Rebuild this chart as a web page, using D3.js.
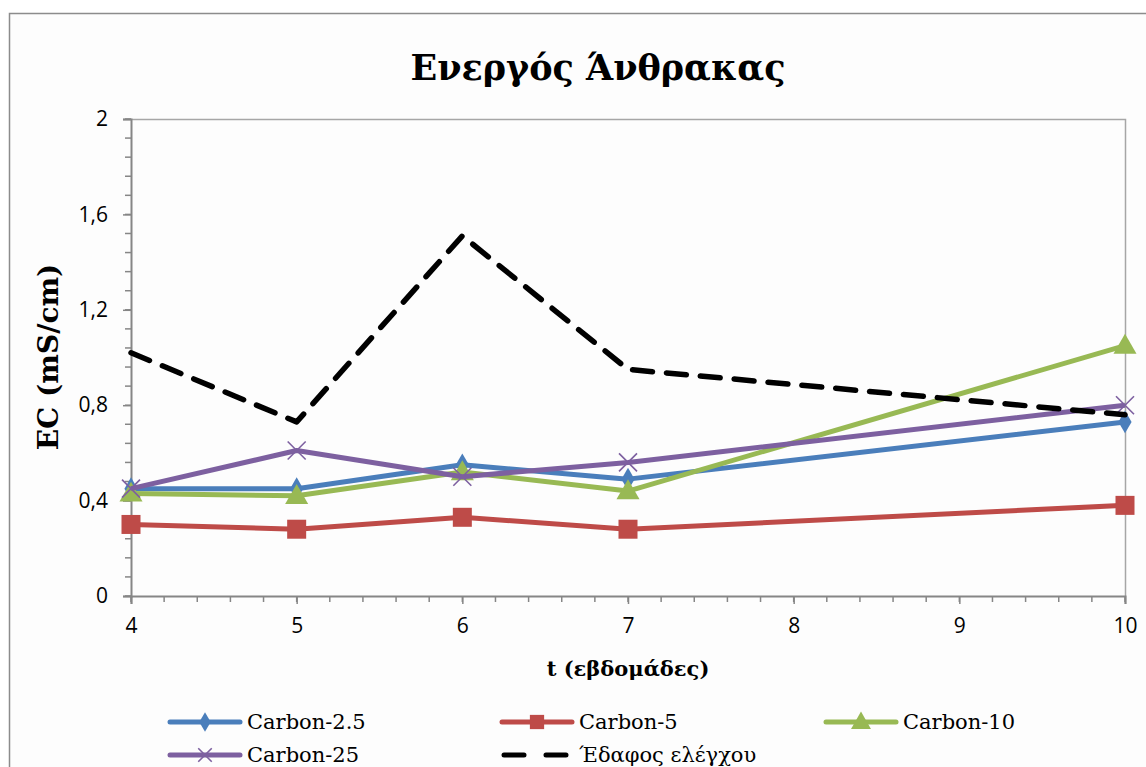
<!DOCTYPE html>
<html>
<head>
<meta charset="utf-8">
<script src="https://cdn.jsdelivr.net/npm/d3@7"></script>
<style>
  html, body { margin: 0; padding: 0; background: #ffffff; }
  svg { display: block; }
</style>
</head>
<body>
<svg id="chart" width="1146" height="767"></svg>
<script>
// Weeks of measurement and EC readings (mS/cm) per treatment
const weeks = [4, 5, 6, 7, 10];
const carbon2_5 = [0.45, 0.45, 0.55, 0.49, 0.73];
const carbon5 = [0.30, 0.28, 0.33, 0.28, 0.38];
const carbon10 = [0.43, 0.42, 0.52, 0.44, 1.05];
const carbon25 = [0.45, 0.61, 0.50, 0.56, 0.80];
const controlSoil = [1.02, 0.73, 1.51, 0.95, 0.76];

const xTicks = [4, 5, 6, 7, 8, 9, 10];
const yTicks = [0, 0.4, 0.8, 1.2, 1.6, 2];

const seriesNames = ["Carbon-2.5", "Carbon-5", "Carbon-10", "Carbon-25", "Έδαφος ελέγχου"];
const seriesValues = [carbon2_5, carbon5, carbon10, carbon25, controlSoil];
const seriesColors = ["#4a7ebb", "#be4b48", "#98b954", "#7d60a0", "#000000"];
const seriesMarkers = ["diamond", "square", "triangle", "cross", "none"];

const title = "Ενεργός Άνθρακας";
const yTitle = "EC (mS/cm)";
const xTitle = "t (εβδομάδες)";

const svg = d3.select("#chart");
const W = 1146, H = 767;
const plot = { left: 131, top: 119, right: 1125, bottom: 596 };

// Outer chart frame
svg.append("rect").attr("x", 9.5).attr("y", 13.5).attr("width", W + 20).attr("height", H + 20)
  .attr("fill", "#fdfdfd").attr("stroke", "#8c8c8c").attr("stroke-width", 1.5);

const x = d3.scaleLinear().domain([4, 10]).range([plot.left, plot.right]);
const y = d3.scaleLinear().domain([0, 2]).range([plot.bottom, plot.top]);

// Plot area border (top and right)
svg.append("path")
  .attr("d", `M${plot.left},${plot.top + 0.5}H${plot.right + 0.5}V${plot.bottom}`)
  .attr("fill", "none").attr("stroke", "#a6a6a6").attr("stroke-width", 1.5);

const axisColor = "#868686";
const tickFont = "'Open Sans', 'Noto Sans', sans-serif";

// Minor ticks
const yMinor = d3.range(0, 2.0001, 0.08);
svg.append("g").selectAll("line").data(yMinor).join("line")
  .attr("x1", plot.left - 6).attr("x2", plot.left)
  .attr("y1", d => y(d)).attr("y2", d => y(d))
  .attr("stroke", axisColor).attr("stroke-width", 1.5);
const xMinor = d3.range(4, 10.0001, 0.2);
svg.append("g").selectAll("line").data(xMinor).join("line")
  .attr("x1", d => x(d)).attr("x2", d => x(d))
  .attr("y1", plot.bottom).attr("y2", plot.bottom + 6)
  .attr("stroke", axisColor).attr("stroke-width", 1.5);

// Y axis
const yAxis = d3.axisLeft(y).tickValues(yTicks).tickSize(8).tickPadding(15)
  .tickFormat(d => d3.format("")(d).replace(".", ","));
const gy = svg.append("g").attr("transform", `translate(${plot.left},0)`).call(yAxis);
gy.select(".domain").attr("stroke", axisColor).attr("stroke-width", 2);
gy.selectAll(".tick line").attr("stroke", axisColor).attr("stroke-width", 1.5);
gy.selectAll(".tick text").attr("fill", "#000").style("font-family", tickFont).style("font-size", "21px");

// X axis
const xAxis = d3.axisBottom(x).tickValues(xTicks).tickSize(8).tickPadding(14).tickFormat(d3.format("d"));
const gx = svg.append("g").attr("transform", `translate(0,${plot.bottom})`).call(xAxis);
gx.select(".domain").attr("stroke", axisColor).attr("stroke-width", 2);
gx.selectAll(".tick line").attr("stroke", axisColor).attr("stroke-width", 1.5);
gx.selectAll(".tick text").attr("fill", "#000").style("font-family", tickFont).style("font-size", "21px");

// Titles
const serif = "'DejaVu Serif', 'Liberation Serif', serif";
svg.append("text").attr("x", 598).attr("y", 80).attr("text-anchor", "middle")
  .style("font-family", serif).style("font-weight", "bold").style("font-size", "35px")
  .text(title);
svg.append("text").attr("transform", `translate(58,${357}) rotate(-90)`).attr("text-anchor", "middle")
  .style("font-family", serif).style("font-weight", "bold").style("font-size", "28px")
  .text(yTitle);
svg.append("text").attr("x", 628).attr("y", 676).attr("text-anchor", "middle")
  .style("font-family", serif).style("font-weight", "bold").style("font-size", "21px")
  .text(xTitle);

// Marker drawing
function drawMarker(g, type, color, cx, cy, scale) {
  const s = scale || 1;
  if (type === "diamond") {
    g.append("path").attr("d", d3.symbol(d3.symbolDiamond, 150 * s)())
      .attr("transform", `translate(${cx},${cy})`).attr("fill", color);
  } else if (type === "square") {
    const h = 9.5 * s;
    g.append("rect").attr("x", cx - h).attr("y", cy - h).attr("width", 2 * h).attr("height", 2 * h)
      .attr("fill", color);
  } else if (type === "triangle") {
    g.append("path").attr("d", d3.symbol(d3.symbolTriangle, 230 * s)())
      .attr("transform", `translate(${cx},${cy + 1.5 * s})`).attr("fill", color);
  } else if (type === "cross") {
    const h = 9 * s;
    g.append("path").attr("d", `M${cx - h},${cy - h}L${cx + h},${cy + h}M${cx - h},${cy + h}L${cx + h},${cy - h}`)
      .attr("stroke", color).attr("stroke-width", 1.6).attr("fill", "none");
  }
}

const line = d3.line().x((d, i) => x(weeks[i])).y(d => y(d));
const seriesG = svg.append("g");
seriesValues.forEach((vals, k) => {
  const g = seriesG.append("g");
  const p = g.append("path").datum(vals).attr("d", line)
    .attr("fill", "none").attr("stroke", seriesColors[k]).attr("stroke-width", 5)
    .attr("stroke-linejoin", "round");
  if (seriesMarkers[k] === "none") {
    p.attr("stroke-dasharray", "20,14").attr("stroke-linecap", "round").attr("stroke-width", 5.5);
  }
  vals.forEach((v, i) => drawMarker(g, seriesMarkers[k], seriesColors[k], x(weeks[i]), y(v)));
});

// Legend
const legendPos = [[170, 722], [502, 722], [826, 722], [170, 755], [502, 755]];
const legend = svg.append("g");
seriesNames.forEach((name, k) => {
  const [lx, ly] = legendPos[k];
  const g = legend.append("g");
  const ln = g.append("line").attr("x1", lx).attr("x2", lx + 70).attr("y1", ly).attr("y2", ly)
    .attr("stroke", seriesColors[k]).attr("stroke-width", 5).attr("stroke-linecap", "round");
  if (seriesMarkers[k] === "none") {
    ln.attr("stroke-dasharray", "20,22").attr("x1", lx + 2).attr("x2", lx + 70);
  } else {
    drawMarker(g, seriesMarkers[k], seriesColors[k], lx + 35, ly, 0.75);
  }
  g.append("text").attr("x", lx + 77).attr("y", ly + 7)
    .style("font-family", serif).style("font-size", "21px").text(name);
});
</script>
</body>
</html>
